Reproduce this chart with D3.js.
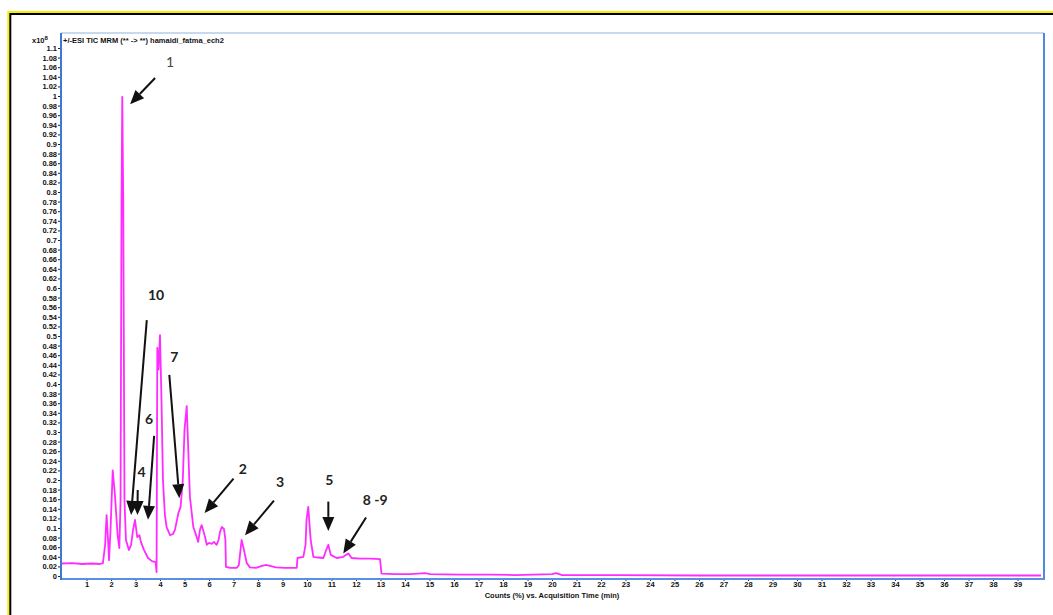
<!DOCTYPE html>
<html>
<head>
<meta charset="utf-8">
<script src="https://cdn.jsdelivr.net/npm/d3@7/dist/d3.min.js"></script>
<style>
  html, body { margin: 0; padding: 0; background: #fff; }
  svg { display: block; }
</style>
</head>
<body>
<svg id="chart" width="1053" height="615"></svg>
<script>
// Retention times (min) of the TIC trace
const times = [
  0, 0.41, 0.82, 1.22, 1.55, 1.67, 1.76, 1.82, 1.88, 1.92, 1.98, 2.07, 2.16, 2.27, 2.34,
  2.39, 2.43, 2.46, 2.50, 2.55, 2.61, 2.73, 2.82, 2.90, 2.98, 3.07, 3.16, 3.22, 3.35, 3.51,
  3.67, 3.82, 3.86, 3.89, 3.94, 4.0, 4.06, 4.12, 4.2, 4.27, 4.41, 4.53, 4.61, 4.75, 4.84,
  4.93, 5.0, 5.09, 5.14, 5.22, 5.36, 5.50, 5.56, 5.63, 5.70, 5.78, 5.84, 5.91, 6.0, 6.11,
  6.2, 6.31, 6.39, 6.45, 6.52, 6.61, 6.67, 6.69, 6.86, 7.13, 7.22, 7.33, 7.41, 7.54, 7.67,
  7.92, 8.16, 8.33, 8.49, 8.73, 9.1, 9.58, 9.61, 9.85, 9.94, 9.98, 10.05, 10.15, 10.26, 10.45,
  10.67, 10.78, 10.87, 10.97, 11.21, 11.48, 11.59, 11.69, 11.82, 12.16, 12.57, 12.98, 13.04, 13.59, 14.2,
  14.82, 15.02, 16.24, 17.47, 18.49, 20.0, 20.16, 20.41, 22.78, 26.04, 30.12, 34.2, 38.29, 39.96
];
// Relative counts (x10^8) at each retention time
const counts = [
  0.026, 0.027, 0.025, 0.026, 0.025, 0.027, 0.065, 0.127, 0.075, 0.033, 0.096, 0.22, 0.169, 0.085, 0.058,
  0.158, 0.783, 0.998, 0.783, 0.158, 0.075, 0.054, 0.065, 0.096, 0.117, 0.081, 0.085, 0.071, 0.054, 0.0375,
  0.031, 0.029, 0.008, 0.475, 0.43, 0.502, 0.367, 0.2, 0.127, 0.102, 0.085, 0.0875, 0.096, 0.131, 0.144,
  0.2, 0.304, 0.354, 0.283, 0.165, 0.102, 0.081, 0.071, 0.096, 0.106, 0.092, 0.081, 0.065, 0.069, 0.067,
  0.071, 0.065, 0.075, 0.092, 0.102, 0.098, 0.075, 0.019, 0.017, 0.017, 0.023, 0.075, 0.058, 0.027, 0.018,
  0.017, 0.021, 0.023, 0.021, 0.018, 0.017, 0.017, 0.0375, 0.040, 0.065, 0.117, 0.144, 0.075, 0.040, 0.0385,
  0.0375, 0.054, 0.065, 0.044, 0.0375, 0.040, 0.044, 0.047, 0.0375, 0.036, 0.036, 0.035, 0.005, 0.004, 0.004,
  0.006, 0.004, 0.003, 0.003, 0.002, 0.004, 0.006, 0.002, 0.002, 0.001, 0.001, 0.001, 0.001, 0.001
];

// Axis ticks
const xTicks = d3.range(1, 40);
const yTicks = d3.range(0, 56).map(i => Math.round(i * 2) / 100);

// Peak annotations: label, label anchor, arrow tail and arrow tip (time, counts)
const peakLabels = ["1", "10", "4", "6", "7", "2", "3", "5", "8 -9"];
const labelAt = [[4.41, 1.071], [3.84, 0.5875], [3.25, 0.217], [3.55, 0.3285], [4.58, 0.458],
                 [7.38, 0.224], [8.90, 0.196], [10.91, 0.201], [12.78, 0.160]];
const arrowFrom = [[3.80, 1.0375], [3.46, 0.533], [3.09, 0.179], [3.76, 0.292], [4.38, 0.419],
                   [7.00, 0.203], [8.65, 0.157], [10.87, 0.155], [12.41, 0.122]];
const arrowTo = [[2.78, 0.983], [2.82, 0.127], [3.08, 0.127], [3.51, 0.117], [4.79, 0.162],
                 [5.82, 0.131], [7.47, 0.085], [10.87, 0.094], [11.48, 0.047]];

const svg = d3.select("#chart");
const plot = { left: 61, right: 1044, top: 33, bottom: 579 };

const x = d3.scaleLinear().domain([0, 40.08]).range([62, 1044]);
const y = d3.scaleLinear().domain([-0.00625, 1.13125]).range([plot.bottom, plot.top]);

// Outer document frame (yellow with black inner edge)
svg.append("path").attr("d", "M8.3,615V12H1053").attr("fill", "none")
  .attr("stroke", "#f4ee00").attr("stroke-width", 2);
svg.append("path").attr("d", "M10.3,615V14H1053").attr("fill", "none")
  .attr("stroke", "#000").attr("stroke-width", 2);

const tickFont = "'Liberation Sans', Arial, sans-serif";

// Y axis
const yAxis = svg.append("g")
  .attr("transform", `translate(${plot.left},0)`)
  .call(d3.axisLeft(y).tickValues(yTicks).tickSize(3).tickPadding(1)
    .tickFormat(d => String(+d.toFixed(2))));
yAxis.select(".domain").remove();
yAxis.selectAll(".tick line").attr("stroke", "#222");
yAxis.selectAll(".tick text").attr("font-family", tickFont).attr("font-size", 7.5)
  .attr("font-weight", "bold").attr("fill", "#111");

// X axis
const xAxis = svg.append("g")
  .attr("transform", `translate(0,${plot.bottom})`)
  .call(d3.axisBottom(x).tickValues(xTicks).tickSize(2).tickPadding(1)
    .tickFormat(d3.format("d")));
xAxis.select(".domain").remove();
xAxis.selectAll(".tick line").attr("stroke", "#222");
xAxis.selectAll(".tick text").attr("font-family", tickFont).attr("font-size", 7.5)
  .attr("font-weight", "bold").attr("fill", "#111");

// Plot frame
svg.append("line").attr("x1", plot.left).attr("x2", plot.right).attr("y1", plot.top).attr("y2", plot.top)
  .attr("stroke", "#b4cbea").attr("stroke-width", 1.5);
svg.append("line").attr("x1", plot.right).attr("x2", plot.right).attr("y1", plot.top).attr("y2", plot.bottom)
  .attr("stroke", "#4f88e2").attr("stroke-width", 2);
svg.append("line").attr("x1", plot.left).attr("x2", plot.right + 1).attr("y1", plot.bottom).attr("y2", plot.bottom)
  .attr("stroke", "#5b8fe3").attr("stroke-width", 2);
svg.append("line").attr("x1", plot.left).attr("x2", plot.left).attr("y1", plot.top).attr("y2", plot.bottom + 1)
  .attr("stroke", "#3f77d4").attr("stroke-width", 2);

// Trace
const line = d3.line().x((d, i) => x(times[i])).y(d => y(d));
svg.append("path").datum(counts)
  .attr("d", line)
  .attr("fill", "none")
  .attr("stroke", "#ff2cff")
  .attr("stroke-width", 1.8)
  .attr("stroke-linejoin", "round");

// Header texts
svg.append("text").attr("x", 32).attr("y", 43)
  .attr("font-family", tickFont).attr("font-size", 7.5).attr("font-weight", "bold").attr("fill", "#111")
  .text("x10")
  .append("tspan").attr("dy", -3).attr("font-size", 6).text("8");
svg.append("text").attr("x", 63).attr("y", 43)
  .attr("font-family", tickFont).attr("font-size", 7.5).attr("font-weight", "bold").attr("fill", "#111")
  .text("+/-ESI TIC MRM (** -> **) hamaidi_fatma_ech2");
svg.append("text").attr("x", 552).attr("y", 598).attr("text-anchor", "middle")
  .attr("font-family", tickFont).attr("font-size", 7.5).attr("font-weight", "bold").attr("fill", "#111")
  .text("Counts (%) vs. Acquisition Time (min)");

// Annotation arrows
const headLen = 14, headHalf = 6;
const ann = svg.append("g");
peakLabels.forEach((lab, i) => {
  const x1 = x(arrowFrom[i][0]), y1 = y(arrowFrom[i][1]);
  const x2 = x(arrowTo[i][0]), y2 = y(arrowTo[i][1]);
  const ang = Math.atan2(y2 - y1, x2 - x1);
  const bx = x2 - headLen * Math.cos(ang), by = y2 - headLen * Math.sin(ang);
  ann.append("line").attr("x1", x1).attr("y1", y1).attr("x2", bx).attr("y2", by)
    .attr("stroke", "#111").attr("stroke-width", 2);
  const px = -Math.sin(ang) * headHalf, py = Math.cos(ang) * headHalf;
  ann.append("path")
    .attr("d", `M${x2},${y2}L${bx + px},${by + py}L${bx - px},${by - py}Z`)
    .attr("fill", "#111");
  ann.append("text")
    .attr("x", x(labelAt[i][0])).attr("y", y(labelAt[i][1]))
    .attr("text-anchor", "middle").attr("dominant-baseline", "central")
    .attr("font-family", "Lato, 'Open Sans', sans-serif")
    .attr("font-size", 14)
    .attr("font-weight", i === 0 ? "normal" : "bold")
    .attr("fill", i === 0 ? "#444" : "#222")
    .text(lab);
});
</script>
</body>
</html>
